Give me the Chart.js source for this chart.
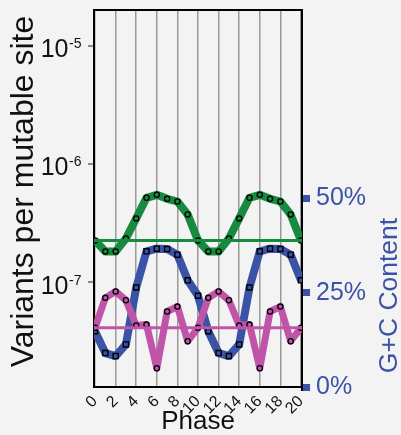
<!DOCTYPE html>
<html>
<head>
<meta charset="utf-8">
<script src="https://cdn.jsdelivr.net/npm/chart.js@4.4.1/dist/chart.umd.min.js"></script>
<style>
  html, body { margin: 0; padding: 0; background: #f2f3f2; }
  #wrap { width: 401px; height: 435px; position: relative; }
</style>
</head>
<body>
<div id="wrap"><canvas id="c"></canvas></div>
<script>
// ---- data ----
const phases = [0,1,2,3,4,5,6,7,8,9,10,11,12,13,14,15,16,17,18,19,20];
const greenRate = [2.25e-7,1.82e-7,1.82e-7,2.34e-7,3.46e-7,5.17e-7,5.48e-7,5.07e-7,4.81e-7,3.74e-7,
                   2.25e-7,1.82e-7,1.82e-7,2.34e-7,3.46e-7,5.17e-7,5.48e-7,5.07e-7,4.81e-7,3.74e-7,2.25e-7];
const greenMean = 2.25e-7;
const pinkRate = [4.11e-8,7.37e-8,8.34e-8,7.04e-8,4.30e-8,4.38e-8,1.87e-8,5.65e-8,6.22e-8,3.17e-8,
                  4.11e-8,7.37e-8,8.34e-8,7.04e-8,4.30e-8,4.38e-8,1.87e-8,5.65e-8,6.22e-8,3.17e-8,4.11e-8];
const pinkMean = 4.11e-8;
const gcContent = [14.8,9.0,8.2,11.3,26.4,36.0,36.7,36.6,35.1,28.3,
                   24.2,14.8,9.0,8.2,11.3,26.4,36.0,36.7,36.6,35.1,28.3];
const xTickValues = [0,2,4,6,8,10,12,14,16,18,20];
const xTickLabels = ['0','2','4','6','8','10','12','14','16','18','20'];
const rateTickValues = [1e-7,1e-6,1e-5];
const rateTickBase = ['10','10','10'];
const rateTickExponents = ['-7','-6','-5'];
const gcTickValues = [0,25,50];
const gcTickLabels = ['0%','25%','50%'];
const xTitle = 'Phase';
const yTitle = 'Variants per mutable site';
const y2Title = 'G+C Content';

// ---- styles ----
const GREEN = '#188a40';
const PINK = '#c054a9';
const BLUE = '#3a53a6';
const FONT = '"Liberation Sans", Arial, sans-serif';

const pts = (ys) => phases.map((p, i) => ({ x: p, y: ys[i] }));
const flat = (v) => [{ x: phases[0], y: v }, { x: phases[phases.length - 1], y: v }];

const extraText = {
  id: 'extraText',
  afterDraw(chart) {
    const ctx = chart.ctx;
    const y = chart.scales.y;
    ctx.save();
    ctx.fillStyle = '#111';
    rateTickValues.forEach((v, i) => {
      const py = y.getPixelForValue(v);
      ctx.font = '25px ' + FONT;
      ctx.textAlign = 'right';
      ctx.textBaseline = 'alphabetic';
      ctx.fillText(rateTickBase[i], 68.5, py + 11.5);
      ctx.font = '14px ' + FONT;
      ctx.textAlign = 'left';
      ctx.fillText(rateTickExponents[i], 69, py + 2.5);
    });
    ctx.font = '32px ' + FONT;
    ctx.textAlign = 'center';
    ctx.textBaseline = 'alphabetic';
    ctx.translate(33, 191.5);
    ctx.rotate(-Math.PI / 2);
    ctx.fillText(yTitle, 0, 0);
    ctx.restore();
    ctx.save();
    ctx.fillStyle = BLUE;
    ctx.font = '26.5px ' + FONT;
    ctx.textAlign = 'center';
    ctx.textBaseline = 'alphabetic';
    ctx.translate(396.5, 295.5);
    ctx.rotate(-Math.PI / 2);
    ctx.fillText(y2Title, 0, 0);
    ctx.restore();
  }
};

const noPad = s => { s.paddingTop = 0; s.paddingBottom = 0; };

new Chart(document.getElementById('c'), {
  type: 'line',
  data: {
    datasets: [
      { data: pts(greenRate), yAxisID: 'y', borderColor: GREEN, borderWidth: 8, borderJoinStyle: 'round',
        pointRadius: 2.6, pointBackgroundColor: GREEN, pointBorderColor: '#000', pointBorderWidth: 1.3, order: 2 },
      { data: flat(greenMean), yAxisID: 'y', borderColor: GREEN, borderWidth: 3, pointRadius: 0, order: 1 },
      { data: pts(pinkRate), yAxisID: 'y', borderColor: PINK, borderWidth: 7, borderJoinStyle: 'round',
        pointRadius: 2.6, pointBackgroundColor: PINK, pointBorderColor: '#000', pointBorderWidth: 1.3, order: 4 },
      { data: flat(pinkMean), yAxisID: 'y', borderColor: PINK, borderWidth: 3, pointRadius: 0, order: 3 },
      { data: pts(gcContent), yAxisID: 'y2', borderColor: BLUE, borderWidth: 8, borderJoinStyle: 'round',
        pointStyle: 'rect', pointRadius: 3.6, pointBackgroundColor: BLUE, pointBorderColor: '#000', pointBorderWidth: 1.4, order: 5 }
    ]
  },
  options: {
    responsive: true,
    maintainAspectRatio: false,
    animation: false,
    devicePixelRatio: 1,
    layout: { padding: 0 },
    plugins: { legend: { display: false }, tooltip: { enabled: false } },
    elements: { line: { tension: 0, fill: false } },
    scales: {
      x: {
        type: 'linear', position: 'bottom', min: -0.1, max: 20.1,
        afterBuildTicks: s => { s.ticks = xTickValues.map(v => ({ value: v })); },
        afterFit: s => { s.height = 48; s.paddingLeft = 0; s.paddingRight = 0; },
        ticks: {
          autoSkip: false,
          callback: (v) => xTickLabels[xTickValues.indexOf(v)],
          minRotation: 45, maxRotation: 45, padding: 5,
          color: '#111', font: { family: FONT, size: 16 }
        },
        grid: { color: '#9a9a9a', lineWidth: 1.5, drawTicks: false },
        border: { color: '#000', width: 2 },
        title: { display: true, text: xTitle, color: '#111', font: { family: FONT, size: 26, lineHeight: 1 }, padding: { top: 0, bottom: 0 } }
      },
      x2: {
        type: 'linear', position: 'top', min: -0.1, max: 20.1,
        afterFit: s => { s.height = 10; },
        ticks: { display: false },
        grid: { display: false },
        border: { color: '#000', width: 2 }
      },
      y: {
        type: 'logarithmic', position: 'left', min: 1.3e-8, max: 2e-5,
        afterBuildTicks: s => { s.ticks = rateTickValues.map(v => ({ value: v })); },
        afterFit: s => { s.width = 94; noPad(s); },
        ticks: { display: false },
        grid: { drawOnChartArea: false, drawTicks: true, tickLength: 6, color: '#8a8a8a', lineWidth: 2 },
        border: { color: '#000', width: 2 }
      },
      y2: {
        type: 'linear', position: 'right', min: 0, max: 100,
        afterBuildTicks: s => { s.ticks = gcTickValues.map(v => ({ value: v })); },
        afterFit: s => { s.width = 99; noPad(s); },
        ticks: {
          callback: (v) => gcTickLabels[gcTickValues.indexOf(v)],
          color: BLUE, padding: 6, font: { family: FONT, size: 25 }
        },
        grid: { drawOnChartArea: false, drawTicks: true, tickLength: 8, tickWidth: 7, lineWidth: 7, color: BLUE },
        border: { color: '#000', width: 2 }
      }
    }
  },
  plugins: [extraText]
});
</script>
</body>
</html>
